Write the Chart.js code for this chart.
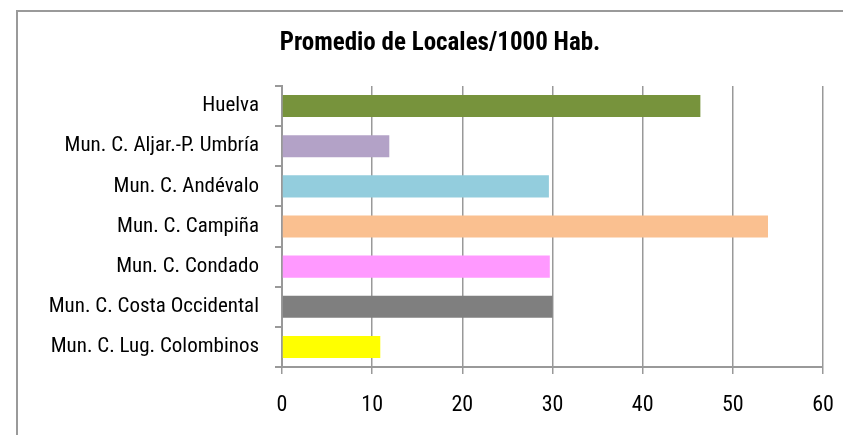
<!DOCTYPE html>
<html>
<head>
<meta charset="utf-8">
<script src="https://cdn.jsdelivr.net/npm/chart.js@4/dist/chart.umd.min.js"></script>
<style>
  html, body { margin: 0; padding: 0; background: #fff; }
  #wrap { position: relative; width: 843px; height: 435px; overflow: hidden; }
  #frame { position: absolute; left: 16px; top: 10px; width: 900px; height: 500px; border: 2px solid #9a9a9a; }
  #c { position: absolute; left: 0; top: 0; }
</style>
</head>
<body>
<div id="wrap">
  <div id="frame"></div>
  <canvas id="c" width="843" height="435"></canvas>
</div>
<script>
const categories = [
  "Huelva",
  "Mun. C. Aljar.-P. Umbría",
  "Mun. C. Andévalo",
  "Mun. C. Campiña",
  "Mun. C. Condado",
  "Mun. C. Costa Occidental",
  "Mun. C. Lug. Colombinos"
];
const values = [46.4, 11.9, 29.6, 53.9, 29.7, 30.0, 10.9];
const barColors = ["#77933c", "#b3a2c7", "#93cddd", "#fac090", "#ff99ff", "#7f7f7f", "#ffff00"];
const xTicks = [0, 10, 20, 30, 40, 50, 60];
const titleText = "Promedio de Locales/1000 Hab.";

// the original uses a narrow font; take the first narrow one installed, else plain sans
const probe = document.createElement("canvas").getContext("2d");
function hasFont(name) {
  const s = "Mun. C. Costa Occidental 0123";
  probe.font = "40px monospace";
  const a = probe.measureText(s).width;
  probe.font = `40px "${name}", monospace`;
  return probe.measureText(s).width !== a;
}
const family = ["Liberation Sans Narrow", "Arial Narrow", "Roboto Condensed", "DejaVu Sans Condensed", "Liberation Sans"]
  .find(hasFont) || "sans-serif";
const FONT = `"${family}", "Liberation Sans", Arial, sans-serif`;

// size the text so it spans about what it spans in the picture
function fitSize(text, weight, target, max) {
  probe.font = `${weight} 100px ${FONT}`;
  return Math.min(max, Math.floor(100 * target / probe.measureText(text).width * 2) / 2);
}
const labelSize = fitSize("Mun. C. Costa Occidental", "normal", 214, 22.5);
const titleSize = fitSize(titleText, "bold", 325, 26);

const titlePlugin = {
  id: "titleText",
  afterDraw(chart) {
    const ctx = chart.ctx;
    ctx.save();
    ctx.font = `bold ${titleSize}px ${FONT}`;
    ctx.fillStyle = "#000";
    ctx.textAlign = "center";
    ctx.textBaseline = "middle";
    ctx.fillText(titleText, 440, 44);
    ctx.restore();
  }
};

new Chart(document.getElementById("c").getContext("2d"), {
  type: "bar",
  data: {
    labels: categories,
    datasets: [{
      data: values,
      backgroundColor: barColors,
      borderWidth: 0,
      categoryPercentage: 1,
      barPercentage: 0.55
    }]
  },
  plugins: [titlePlugin],
  options: {
    indexAxis: "y",
    responsive: false,
    animation: false,
    layout: { padding: { left: 0, right: 0, top: 86, bottom: 0 } },
    plugins: {
      legend: { display: false },
      tooltip: { enabled: false },
      title: { display: false }
    },
    scales: {
      x: {
        min: 0,
        max: 60,
        afterBuildTicks: s => { s.ticks = xTicks.map(v => ({ value: v })); },
        afterFit: s => { s.height = 68; s.paddingLeft = 0; s.paddingRight = 20; },
        grid: { color: "#999", lineWidth: 1.5, tickLength: 7 },
        border: { color: "#999", width: 2 },
        ticks: { color: "#000", padding: 18, font: { family: FONT, size: 22 } }
      },
      y: {
        afterFit: s => { s.width = 282; },
        grid: { offset: true, drawOnChartArea: false, color: "#999", lineWidth: 2, tickLength: 7 },
        border: { color: "#999", width: 2 },
        ticks: { color: "#000", padding: 16, font: { family: FONT, size: labelSize } }
      }
    }
  }
});
</script>
</body>
</html>
